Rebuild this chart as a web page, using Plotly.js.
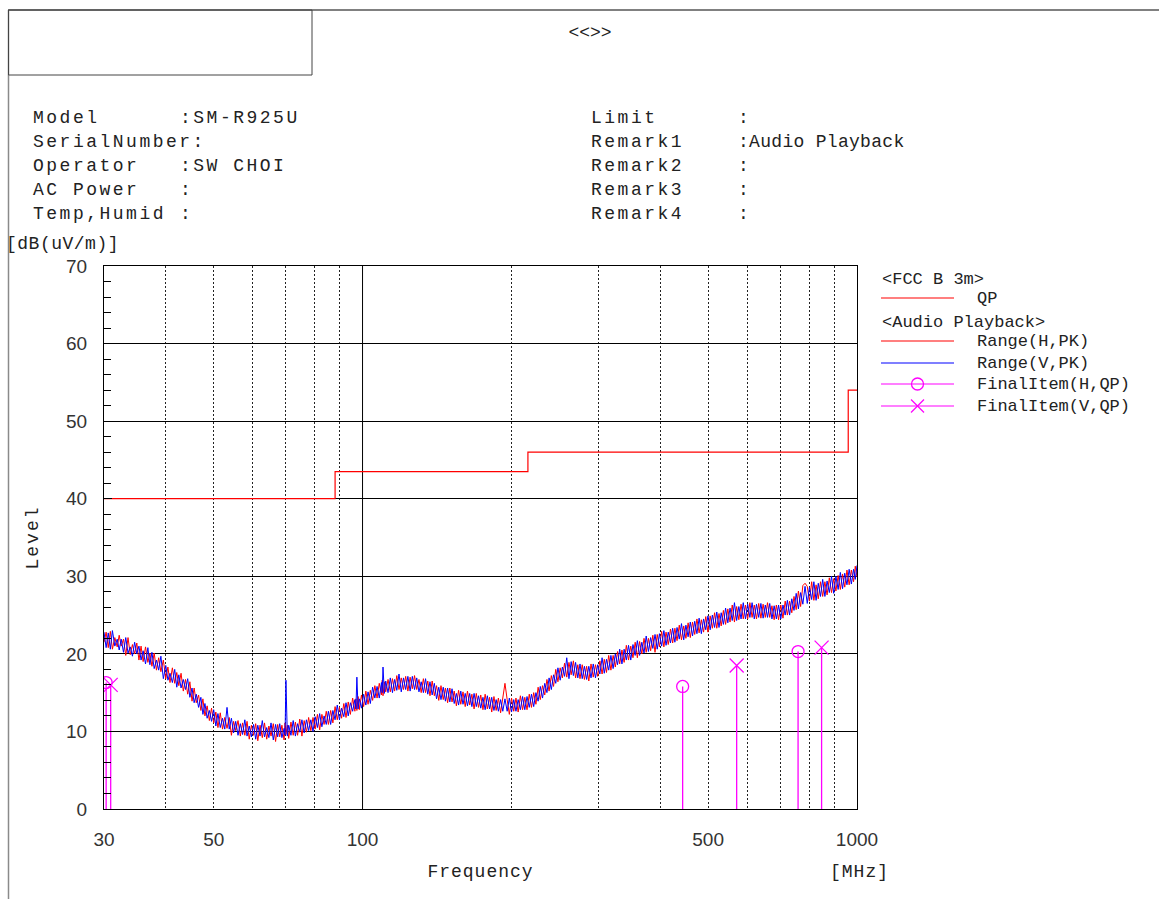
<!DOCTYPE html>
<html><head><meta charset="utf-8">
<script src="https://cdn.plot.ly/plotly-3.0.1.min.js"></script>
<style>html,body{margin:0;padding:0;background:#fff}#chart{width:1159px;height:899px}</style>
</head><body><div id="chart"></div>
<script>
// ---- data ----
const freq = [30,30.3,30.6,30.9,31.2,31.55,31.9,32.2,32.5,32.85,
33.2,33.55,33.9,34.25,34.6,34.95,35.3,35.65,36,36.4,
36.8,37.15,37.5,37.9,38.3,38.7,39.1,39.55,40,40.4,
40.8,41.25,41.7,42.1,42.5,42.95,43.4,43.85,44.3,44.75,
45.2,45.65,46.1,46.6,47.1,47.55,48,48.5,49,49.5,
50,50.5,51,51.55,52.1,52.65,53.2,53.75,54.3,54.85,
55.4,56,56.6,57.2,57.8,58.4,59,59.6,60.2,60.8,
61.4,62.05,62.7,63.35,64,64.65,65.3,66,66.7,67.35,
68,68.7,69.4,69.7,70,70.45,70.9,71.65,72.4,73.15,
73.9,74.65,75.4,76.2,77,77.8,78.6,79.4,80.2,81.05,
81.9,82.75,83.6,84.45,85.3,86.2,87.1,88,88.9,89.8,
90.7,91.65,92.6,93.55,94.5,95.5,96.5,96.95,97.4,97.95,
98.5,99.5,100.5,101.55,102.6,103.7,104.8,105.9,107,108.1,
109.2,109.6,110,110.7,111.4,112.6,113.8,114.95,116.1,117.3,
118.5,119.75,121,122.25,123.5,124.8,126.1,127.4,128.7,130.05,
131.4,132.75,134.1,135.5,136.9,138.3,139.7,141.15,142.6,144.1,
145.6,147.1,148.6,150.15,151.7,153.25,154.8,156.4,158,159.65,
161.3,163,164.7,166.4,168.1,169.85,171.6,173.4,175.2,177,
178.8,180.65,182.5,184.4,186.3,188.25,190.2,192.15,194.1,196.1,
198.1,200.15,202.2,204.3,206.4,208.55,210.7,212.9,215.1,217.35,
219.6,221.9,224.2,226.5,228.8,231.2,233.6,236,238.4,240.9,
243.4,245.9,248.4,251,253.6,256.2,258.8,261.5,264.2,266.95,
269.7,272.5,275.3,278.15,281,283.9,286.8,289.8,292.8,295.85,
298.9,302,305.1,308.25,311.4,314.65,317.9,321.2,324.5,327.85,
331.2,334.65,338.1,341.6,345.1,348.7,352.3,355.95,359.6,363.35,
367.1,370.9,374.7,378.6,382.5,386.45,390.4,394.45,398.5,402.65,
406.8,411,415.2,419.5,423.8,428.2,432.6,437.1,441.6,446.2,
450.8,455.45,460.1,464.9,469.7,474.55,479.4,484.4,489.4,494.45,
499.5,504.7,509.9,515.2,520.5,525.9,531.3,536.8,542.3,547.95,
553.6,559.35,565.1,570.95,576.8,582.8,588.8,594.9,601,607.25,
613.5,619.85,626.2,632.7,639.2,645.85,652.5,659.25,666,672.95,
679.9,686.95,694,701.2,708.4,715.75,723.1,730.6,738.1,745.75,
753.4,761.25,769.1,777.1,785.1,793.25,801.4,809.7,818,826.5,
835,843.65,852.3,861.15,870,879.05,888.1,897.3,906.5,915.9,
925.3,934.9,944.5,954.3,964.1,974.1,984.1,992,1000];

const levelH = [21.5,22.8,20.8,22.9,20.6,22.1,20.9,22.4,21.0,21.9,
19.8,22.1,19.9,21.2,20.0,21.4,19.2,21.0,19.0,20.9,
18.9,20.1,18.4,20.1,17.9,19.5,17.7,19.2,16.8,18.3,
16.3,18.2,16.2,17.6,15.9,17.5,15.2,16.7,14.8,16.4,
13.9,15.6,13.7,14.7,12.7,14.2,12.0,13.3,11.4,13.0,
11.1,12.5,10.5,12.4,10.3,11.8,10.4,11.8,9.5,11.3,
10.1,11.4,9.4,11.1,9.5,11.3,9.0,10.8,9.5,11.0,
8.8,10.8,9.2,11.1,9.0,10.7,9.4,11.0,8.7,10.9,
9.3,10.8,8.9,11.1,9.6,10.8,9.1,11.2,9.5,11.2,
9.5,11.6,9.4,11.4,9.9,11.8,10.1,11.8,10.3,12.2,
10.2,12.2,10.9,12.6,10.9,12.7,11.1,13.2,11.5,13.1,
11.7,13.6,11.8,13.8,12.2,14.3,12.6,14.2,12.7,14.5,
12.8,14.7,13.2,15.2,13.5,15.3,14.0,15.9,14.3,16.2,
14.7,16.6,14.6,16.4,15.1,16.7,15.1,16.8,15.2,17.2,
15.4,16.9,15.4,17.1,15.2,17.0,15.5,17.2,15.4,16.7,
15.0,16.8,15.0,16.5,14.6,16.5,14.6,15.9,14.0,15.9,
14.1,15.6,13.7,15.6,13.8,15.2,13.3,15.3,13.5,15.1,
13.2,15.2,13.4,14.8,12.9,14.9,13.1,14.7,12.8,14.8,
12.9,14.4,12.5,14.5,12.7,14.3,12.4,14.4,16.2,14.1,
12.2,14.3,12.6,14.3,12.5,14.6,12.8,14.4,12.8,14.8,
13.1,15.0,13.5,15.7,14.1,15.9,14.7,16.7,15.2,17.2,
15.8,18.0,16.4,18.2,16.9,18.8,17.0,18.9,17.3,19.1,
16.9,18.6,16.8,18.6,16.7,18.4,16.5,18.7,17.0,18.6,
17.1,19.1,17.4,19.3,17.6,19.8,17.9,19.8,18.3,20.3,
18.7,20.5,18.9,21.1,19.2,21.0,19.5,21.5,19.5,21.6,
20.0,22.0,20.2,22.0,20.4,22.4,20.2,22.5,20.9,22.9,
20.9,22.8,21.2,23.2,21.4,23.3,21.7,23.7,21.8,23.6,
22.0,24.0,22.1,24.1,22.5,24.5,22.7,24.4,22.8,24.8,
22.8,24.9,23.3,25.3,23.3,25.2,23.6,25.6,23.8,25.8,
24.1,26.3,24.1,26.1,24.4,26.4,24.5,26.3,24.5,26.6,
24.7,26.3,24.5,26.5,24.6,26.4,24.7,26.6,24.7,26.2,
24.4,26.3,24.4,26.3,24.6,26.8,25.0,26.8,25.3,27.4,
25.7,28.1,26.1,28.8,29.1,28.7,26.8,29.3,26.9,28.9,
27.1,29.3,27.4,29.3,27.6,29.8,27.9,29.7,28.1,30.1,
28.3,30.3,28.6,30.8,28.9,30.8,29.3,31.3,29.9];

const levelV = [22.8,20.8,22.7,20.6,23.0,21.0,21.9,20.5,21.9,20.2,
22.1,20.1,20.9,19.7,21.5,20.0,21.0,19.2,20.4,18.7,
20.8,18.6,20.2,18.1,19.2,17.9,19.7,16.8,18.5,16.6,
17.5,16.3,18.0,15.7,17.3,15.6,16.7,15.4,16.8,14.4,
15.6,13.7,14.8,13.1,14.4,12.2,13.6,11.7,12.7,11.3,
12.8,10.7,12.3,10.5,11.7,10.3,13.1,10.3,11.7,9.8,
11.3,9.5,11.0,9.6,11.5,9.4,10.7,9.3,10.9,9.0,
10.8,9.4,11.4,9.3,10.5,9.2,11.1,8.9,10.9,9.3,
11.0,9.2,10.4,9.5,16.6,9.4,10.8,9.5,11.4,9.4,
11.0,9.9,11.5,9.8,11.5,10.1,11.5,10.0,11.9,10.5,
12.3,10.6,12.0,10.9,12.6,10.9,12.7,11.5,13.4,11.5,
13.0,11.9,13.7,12.0,13.7,12.6,14.1,12.9,17.0,12.9,
14.2,13.0,14.8,13.4,15.1,13.6,15.7,14.3,15.8,14.3,
16.3,15.0,18.3,14.9,16.5,15.0,16.9,15.0,16.7,15.3,
17.4,15.1,16.9,15.4,17.1,15.2,17.1,15.4,16.9,15.1,
16.4,15.0,16.8,14.8,16.4,14.7,16.2,14.2,15.7,14.1,
15.7,13.9,15.6,13.8,15.5,13.6,14.9,13.4,15.2,13.5,
14.9,13.3,14.9,13.2,14.9,13.2,14.6,13.0,14.4,12.8,
14.6,12.9,14.4,12.7,14.1,12.6,14.1,12.6,14.2,12.6,
14.3,12.5,14.1,12.6,14.1,12.8,14.5,12.8,14.5,13.1,
14.8,13.2,15.0,13.9,15.8,14.3,16.2,15.0,16.9,15.4,
17.3,16.2,18.2,16.6,18.3,17.1,19.5,16.8,19.0,17.2,
18.9,16.9,18.7,16.8,18.4,16.7,18.4,16.9,18.7,16.9,
18.6,17.4,19.5,17.5,19.3,17.9,19.8,18.1,20.0,18.6,
20.6,18.7,20.6,19.2,21.1,19.2,21.2,19.8,21.7,19.8,
21.5,20.1,22.3,20.3,22.1,20.7,22.5,20.6,22.6,21.0,
23.0,21.1,22.8,21.4,23.3,21.5,23.4,21.9,23.9,21.8,
23.7,22.2,24.1,22.3,24.2,22.6,24.6,22.6,24.5,23.1,
24.9,23.1,25.0,23.4,25.4,23.4,25.3,23.8,25.9,24.0,
25.9,24.3,26.6,24.3,26.1,24.5,26.6,24.5,26.4,24.7,
26.6,24.5,26.4,24.7,26.5,24.6,26.3,24.7,26.5,24.5,
26.2,24.5,26.3,24.5,26.3,25.0,26.9,25.0,27.1,25.6,
27.8,25.8,27.9,26.4,28.7,26.5,28.6,27.0,29.3,26.9,
29.1,27.4,29.6,27.4,29.4,27.9,30.0,27.8,30.0,28.3,
30.5,28.4,30.4,28.9,30.9,29.0,30.9,29.6,31.4];

const limitFreq = [30, 88, 216, 960, 1000];
const limitQP = [40, 43.5, 46, 54, 54];

const finalHFreq = [30.3, 444, 760];
const finalHQP = [16.3, 15.8, 20.3];
const finalVFreq = [30.95, 571, 848];
const finalVQP = [16.0, 18.5, 20.8];

const xTickVals = [30, 50, 100, 500, 1000];
const xTickText = ["30", "50", "100", "500", "1000"];
const xDottedGrid = [40, 50, 60, 70, 80, 90, 200, 300, 400, 500, 600, 700, 800, 900];

const headerLeftLabels = ["Model", "SerialNumber:", "Operator", "AC Power", "Temp,Humid"];
const headerLeftValues = [":SM-R925U", "", ":SW CHOI", ":", ":"];
const headerRightLabels = ["Limit", "Remark1", "Remark2", "Remark3", "Remark4"];
const headerRightValues = [":", ":Audio Playback", ":", ":", ":"];

const legendRows = [
  {kind: "title", text: "&lt;FCC B 3m&gt;"},
  {kind: "line", color: "#ff0000", text: "QP"},
  {kind: "title", text: "&lt;Audio Playback&gt;"},
  {kind: "line", color: "#ff0000", text: "Range(H,PK)"},
  {kind: "line", color: "#0000ff", text: "Range(V,PK)"},
  {kind: "circle", color: "#ff00ff", text: "FinalItem(H,QP)"},
  {kind: "cross", color: "#ff00ff", text: "FinalItem(V,QP)"}
];

// ---- layout helpers (pixel -> paper) ----
const L = 104, T = 266, W = 753, H = 543;
const px = x => (x - L) / W;
const py = y => (T + H - y) / H;
const MONO = "Liberation Mono, DejaVu Sans Mono, monospace";
const sp = (t, s) => '<span style="letter-spacing:' + s + 'px">' + t + '</span>';

const annotations = [];
const shapes = [];

// header frame
shapes.push({type: "line", xref: "paper", yref: "paper", x0: px(8), x1: px(1159), y0: py(10), y1: py(10), line: {color: "#808080", width: 2}});
shapes.push({type: "line", xref: "paper", yref: "paper", x0: px(8.5), x1: px(8.5), y0: py(10), y1: py(899), line: {color: "#8a8a8a", width: 1.5}});
shapes.push({type: "rect", xref: "paper", yref: "paper", x0: px(8.5), x1: px(312), y0: py(10), y1: py(75), line: {color: "#444", width: 1}});

const headerRowsY = [118, 142, 166, 190, 214];
headerLeftLabels.forEach((t, i) => {
  annotations.push({xref: "paper", yref: "paper", x: px(31), y: py(headerRowsY[i]), xanchor: "left", yanchor: "middle", showarrow: false,
    text: sp(t, 2.5), font: {family: MONO, size: 18, color: "#222"}});
  if (headerLeftValues[i]) annotations.push({xref: "paper", yref: "paper", x: px(178), y: py(headerRowsY[i]), xanchor: "left", yanchor: "middle", showarrow: false,
    text: sp(headerLeftValues[i], 2.5), font: {family: MONO, size: 18, color: "#222"}});
});
headerRightLabels.forEach((t, i) => {
  annotations.push({xref: "paper", yref: "paper", x: px(589), y: py(headerRowsY[i]), xanchor: "left", yanchor: "middle", showarrow: false,
    text: sp(t, 2.5), font: {family: MONO, size: 18, color: "#222"}});
  const v = headerRightValues[i];
  annotations.push({xref: "paper", yref: "paper", x: px(736), y: py(headerRowsY[i]), xanchor: "left", yanchor: "middle", showarrow: false,
    text: sp(v, v.length > 2 ? 0.3 : 2.5), font: {family: MONO, size: 18, color: "#222"}});
});

// units
annotations.push({xref: "paper", yref: "paper", x: px(4), y: py(244), xanchor: "left", yanchor: "middle", showarrow: false,
  text: sp("[dB(uV/m)]", 0.5), font: {family: MONO, size: 18, color: "#222"}});
annotations.push({xref: "paper", yref: "paper", x: px(828), y: py(872), xanchor: "left", yanchor: "middle", showarrow: false,
  text: sp("[MHz]", 1), font: {family: MONO, size: 18, color: "#222"}});

// manual legend
const legRowY = [279, 298, 322, 341, 363, 384, 406];
legendRows.forEach((r, i) => {
  const y = legRowY[i];
  if (r.kind === "title") {
    annotations.push({xref: "paper", yref: "paper", x: px(880), y: py(y), xanchor: "left", yanchor: "middle", showarrow: false,
      text: r.text, font: {family: MONO, size: 17, color: "#222"}});
    return;
  }
  shapes.push({type: "line", xref: "paper", yref: "paper", x0: px(881), x1: px(954), y0: py(y), y1: py(y), line: {color: r.color, width: 1.2}});
  if (r.kind === "circle") {
    shapes.push({type: "circle", xref: "paper", yref: "paper", x0: px(911.5), x1: px(923.5), y0: py(y + 6), y1: py(y - 6), line: {color: r.color, width: 1.3}, fillcolor: "rgba(0,0,0,0)"});
  }
  if (r.kind === "cross") {
    shapes.push({type: "line", xref: "paper", yref: "paper", x0: px(911), x1: px(924), y0: py(y - 6.5), y1: py(y + 6.5), line: {color: r.color, width: 1.3}});
    shapes.push({type: "line", xref: "paper", yref: "paper", x0: px(911), x1: px(924), y0: py(y + 6.5), y1: py(y - 6.5), line: {color: r.color, width: 1.3}});
  }
  annotations.push({xref: "paper", yref: "paper", x: px(975), y: py(y), xanchor: "left", yanchor: "middle", showarrow: false,
    text: r.text, font: {family: MONO, size: 17, color: "#222"}});
});

// solid grid line at 100 MHz
shapes.push({type: "line", xref: "x", yref: "paper", x0: 100, x1: 100, y0: 0, y1: 1, layer: "below", line: {color: "#000", width: 1}});

const traces = [
  {x: limitFreq, y: limitQP, mode: "lines", name: "QP", line: {color: "#ff0000", width: 1.2, shape: "hv"}, showlegend: false},
  {x: freq, y: levelH, mode: "lines", name: "Range(H,PK)", line: {color: "#ff0000", width: 1}, showlegend: false},
  {x: freq, y: levelV, mode: "lines", name: "Range(V,PK)", line: {color: "#0000ff", width: 1}, showlegend: false},
  {x: finalHFreq, y: finalHQP, mode: "markers", name: "FinalItem(H,QP)", showlegend: false,
    marker: {symbol: "circle-open", size: 12, color: "#ff00ff", line: {width: 1.3, color: "#ff00ff"}},
    error_y: {type: "data", symmetric: false, array: finalHQP.map(() => 0), arrayminus: finalHQP, width: 0, thickness: 1.3, color: "#ff00ff"}},
  {x: finalVFreq, y: finalVQP, mode: "markers", name: "FinalItem(V,QP)", showlegend: false,
    marker: {symbol: "x-thin-open", size: 14, color: "#ff00ff", line: {width: 1.3, color: "#ff00ff"}},
    error_y: {type: "data", symmetric: false, array: finalVQP.map(() => 0), arrayminus: finalVQP, width: 0, thickness: 1.3, color: "#ff00ff"}}
];

const tickFont = {family: "Liberation Sans, Arial, sans-serif", size: 19, color: "#333"};

const layout = {
  width: 1159, height: 899,
  margin: {l: L, r: 1159 - L - W, t: T, b: 899 - T - H, autoexpand: false},
  paper_bgcolor: "#fff", plot_bgcolor: "#fff",
  showlegend: false,
  title: {text: "&lt;&lt;&gt;&gt;", xref: "container", yref: "container", x: 590 / 1159, y: 1 - 32 / 899, xanchor: "center", yanchor: "middle",
    font: {family: MONO, size: 18, color: "#222"}},
  xaxis: {
    type: "log", range: [Math.log10(30), Math.log10(1000)],
    tickmode: "array", tickvals: xTickVals, ticktext: xTickText, ticks: "",
    showgrid: false, zeroline: false, showline: true, linecolor: "#000", linewidth: 1, mirror: true,
    tickfont: tickFont, ticklabelstandoff: 13,
    minor: {tickmode: "array", tickvals: xDottedGrid, showgrid: true, gridcolor: "#222", gridwidth: 1, griddash: "2px,2px", ticks: ""},
    title: {text: sp("Frequency", 1), font: {family: MONO, size: 18, color: "#222"}, standoff: 15},
    automargin: false
  },
  yaxis: {
    range: [0, 70], tickmode: "linear", tick0: 0, dtick: 10,
    showgrid: true, gridcolor: "#000", gridwidth: 1, zeroline: false,
    showline: true, linecolor: "#000", linewidth: 1, mirror: true,
    ticks: "inside", ticklen: 8, tickcolor: "#000", tickwidth: 1,
    tickfont: tickFont, ticklabelstandoff: 12,
    minor: {tickmode: "linear", dtick: 2, ticks: "inside", ticklen: 7, tickcolor: "#000", tickwidth: 1, showgrid: false},
    title: {text: sp("Level", 2), font: {family: MONO, size: 18, color: "#222"}, standoff: 22},
    automargin: false
  },
  annotations: annotations,
  shapes: shapes
};

Plotly.newPlot("chart", traces, layout, {displayModeBar: false, staticPlot: true});
</script>
</body></html>
